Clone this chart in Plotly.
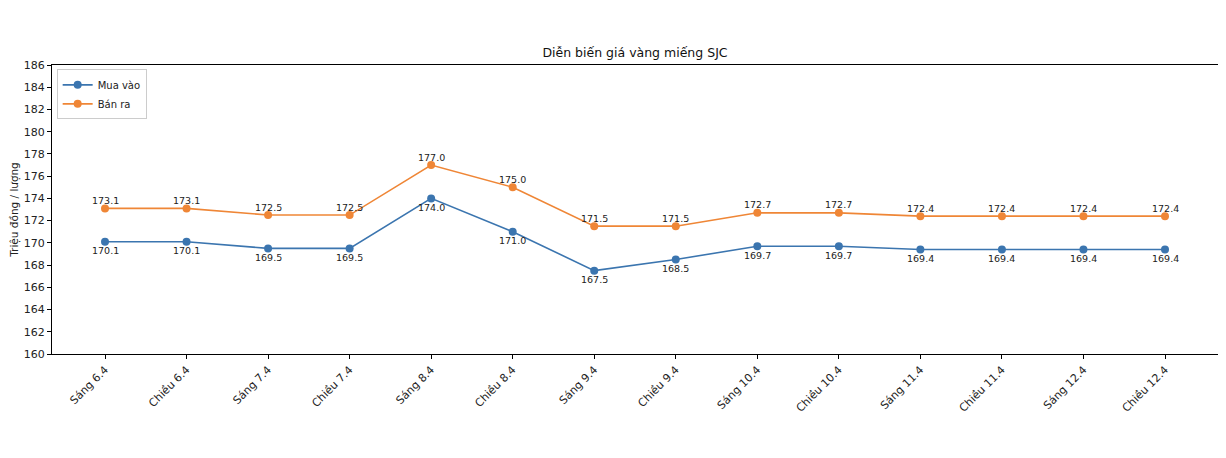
import plotly.graph_objects as go

categories = ["Sáng 6.4", "Chiều 6.4", "Sáng 7.4", "Chiều 7.4", "Sáng 8.4", "Chiều 8.4",
              "Sáng 9.4", "Chiều 9.4", "Sáng 10.4", "Chiều 10.4", "Sáng 11.4", "Chiều 11.4",
              "Sáng 12.4", "Chiều 12.4"]
mua_vao = [170.1, 170.1, 169.5, 169.5, 174.0, 171.0, 167.5, 168.5, 169.7, 169.7, 169.4, 169.4, 169.4, 169.4]
ban_ra = [173.1, 173.1, 172.5, 172.5, 177.0, 175.0, 171.5, 171.5, 172.7, 172.7, 172.4, 172.4, 172.4, 172.4]
y_ticks = list(range(160, 187, 2))

BLUE = "#3b75af"
ORANGE = "#ef8636"
FONT = "DejaVu Sans"
TXT = "#222222"

x_idx = list(range(len(categories)))

fig = go.Figure()
fig.add_trace(go.Scatter(
    x=x_idx, y=mua_vao, name="Mua vào", mode="lines+markers",
    line=dict(color=BLUE, width=1.6), marker=dict(color=BLUE, size=8),
))
fig.add_trace(go.Scatter(
    x=x_idx, y=ban_ra, name="Bán ra", mode="lines+markers",
    line=dict(color=ORANGE, width=1.6), marker=dict(color=ORANGE, size=8),
))

annotations = []
for xi, v in zip(x_idx, mua_vao):
    annotations.append(dict(x=xi, y=v, xref="x", yref="y", text=f"{v:.1f}", showarrow=False,
                            yanchor="middle", xanchor="center", yshift=-9,
                            font=dict(family=FONT, size=9.5, color=TXT)))
for xi, v in zip(x_idx, ban_ra):
    annotations.append(dict(x=xi, y=v, xref="x", yref="y", text=f"{v:.1f}", showarrow=False,
                            yanchor="middle", xanchor="center", yshift=8,
                            font=dict(family=FONT, size=9.5, color=TXT)))

fig.update_layout(
    width=1226, height=458,
    margin=dict(l=44, r=16, t=57, b=112, autoexpand=False),
    paper_bgcolor="white", plot_bgcolor="white",
    font=dict(family=FONT, size=10.5, color=TXT),
    title=dict(text="Diễn biến giá vàng miếng SJC", x=0.5, xref="paper", xanchor="center",
               y=1, yref="paper", yanchor="bottom", pad=dict(b=8),
               font=dict(family=FONT, size=12.5, color="#111")),
    showlegend=True,
    legend=dict(x=0.004, y=0.985, xanchor="left", yanchor="top",
                bordercolor="#cccccc", borderwidth=1, bgcolor="rgba(255,255,255,0.8)",
                font=dict(family=FONT, size=10, color=TXT), tracegroupgap=0,
                itemwidth=30),
    annotations=annotations,
    xaxis=dict(
        range=[-0.65, 13.65], tickmode="array", tickvals=x_idx, ticktext=categories,
        tickangle=-45, showgrid=False, zeroline=False, showline=True, linecolor="black",
        linewidth=1, mirror=True, ticks="outside", ticklen=4, tickcolor="black",
        automargin=False,
        tickfont=dict(family=FONT, size=11, color=TXT),
    ),
    yaxis=dict(
        range=[160, 186], tickmode="array", tickvals=y_ticks,
        showgrid=False, zeroline=False, showline=True, linecolor="black",
        linewidth=1, mirror=True, ticks="outside", ticklen=4, tickcolor="black",
        automargin=False,
        tickfont=dict(family=FONT, size=11, color=TXT),
        title=dict(text="Triệu đồng / lượng", font=dict(family=FONT, size=10.5, color=TXT), standoff=6),
    ),
)

fig.write_html("out.html")
